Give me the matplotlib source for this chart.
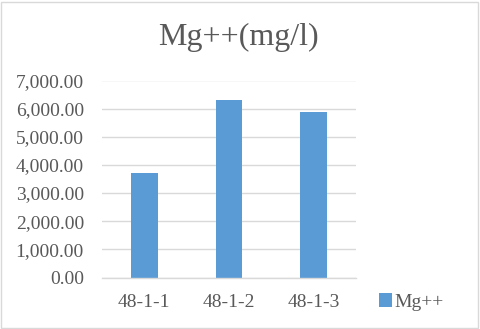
import matplotlib
matplotlib.use("Agg")
import matplotlib.pyplot as plt
from matplotlib.patches import Rectangle, Patch

categories = ["48-1-1", "48-1-2", "48-1-3"]
values = [3710, 6300, 5870]
series_name = "Mg++"
title = "Mg++(mg/l)"
yticks = [0, 1000, 2000, 3000, 4000, 5000, 6000, 7000]

bar_color = "#5B9BD5"
text_color = "#595959"
grid_color = "#D9D9D9"

plt.rcParams['font.family'] = ['Liberation Serif', 'DejaVu Serif']

fig = plt.figure(figsize=(4.8, 3.29), dpi=100)
ax = fig.add_axes([102/480, 1-277.5/329, (356-102)/480, (277.5-80.5)/329])

x = range(len(categories))
ax.bar(x, values, width=0.315, color=bar_color, zorder=3)
ax.set_xlim(-0.5, len(categories)-0.5)
ax.set_ylim(0, 7000)
ax.set_yticks(yticks)
ax.set_yticklabels([f"{v:,.2f}" for v in yticks])
ax.set_xticks(list(x))
ax.set_xticklabels(categories)
ax.grid(axis='y', color=grid_color, linewidth=1.0, zorder=0)
for s in ['top', 'right', 'left']:
    ax.spines[s].set_visible(False)
ax.spines['bottom'].set_color(grid_color)
ax.spines['bottom'].set_linewidth(1.0)
ax.spines['bottom'].set_zorder(4)
ax.tick_params(axis='both', length=0, colors=text_color, labelsize=14)
ax.tick_params(axis='y', pad=13)
ax.tick_params(axis='x', pad=12)

fig.text(238/480, 1-37/329, title, ha='center', va='center', fontsize=23, color=text_color)

handle = Patch(facecolor=bar_color, edgecolor='none')
fig.legend([handle], [series_name], loc='center left', bbox_to_anchor=(369/480, 1-302/329),
           frameon=False, fontsize=14, handlelength=0.7, handleheight=0.7,
           handletextpad=0.1, borderpad=0, labelcolor=text_color)

fig.patches.append(Rectangle((0.002, 0.004), 0.994, 0.99, transform=fig.transFigure,
                             fill=False, edgecolor="#D9D9D9", linewidth=1.0))

fig.savefig("out.png", dpi=100)
